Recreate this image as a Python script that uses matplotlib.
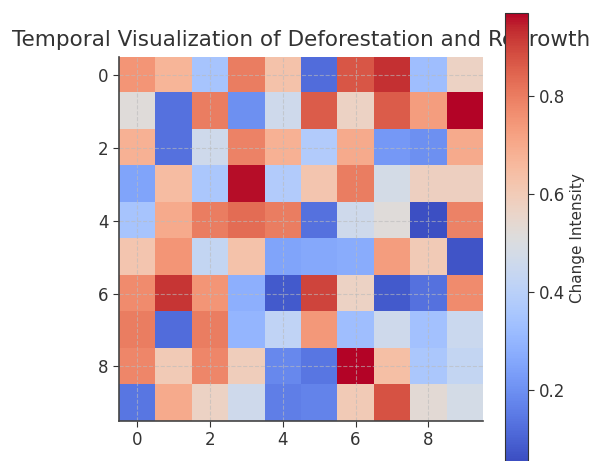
import matplotlib.pyplot as plt
import numpy as np

# Change intensity per cell (rows = y index 0..9, cols = x index 0..9)
row0 = [0.75, 0.67, 0.35, 0.80, 0.63, 0.12, 0.87, 0.93, 0.33, 0.57]
row1 = [0.52, 0.13, 0.80, 0.20, 0.46, 0.86, 0.57, 0.86, 0.73, 0.97]
row2 = [0.68, 0.13, 0.46, 0.79, 0.68, 0.38, 0.70, 0.22, 0.20, 0.70]
row3 = [0.25, 0.65, 0.36, 0.96, 0.38, 0.62, 0.80, 0.48, 0.58, 0.58]
row4 = [0.35, 0.70, 0.80, 0.83, 0.80, 0.13, 0.46, 0.52, 0.06, 0.79]
row5 = [0.62, 0.75, 0.43, 0.63, 0.25, 0.26, 0.27, 0.73, 0.60, 0.07]
row6 = [0.77, 0.92, 0.75, 0.28, 0.08, 0.90, 0.57, 0.08, 0.13, 0.77]
row7 = [0.80, 0.12, 0.80, 0.30, 0.42, 0.74, 0.33, 0.46, 0.34, 0.45]
row8 = [0.78, 0.60, 0.78, 0.59, 0.18, 0.14, 0.97, 0.64, 0.36, 0.43]
row9 = [0.14, 0.70, 0.57, 0.46, 0.16, 0.17, 0.60, 0.88, 0.53, 0.48]

data = np.array([row0, row1, row2, row3, row4, row5, row6, row7, row8, row9])

text_color = "#333333"
plt.rcParams["font.family"] = "DejaVu Sans"

fig = plt.figure(figsize=(5.95, 4.61), dpi=100)
W, H = 595, 461

# main heatmap axes (pixel box: x 119..483, y 57..421)
ax = fig.add_axes([119 / W, (H - 421) / H, 364 / W, 364 / H])
im = ax.imshow(data, cmap="coolwarm", vmin=0.05, vmax=0.97, aspect="auto")

ax.set_xticks([0, 2, 4, 6, 8])
ax.set_yticks([0, 2, 4, 6, 8])
ax.tick_params(labelsize=12, colors=text_color, length=4)
ax.grid(True, linestyle="--", color="#bbbbbb", alpha=0.6, linewidth=0.8)
for side in ["top", "right"]:
    ax.spines[side].set_visible(False)
for side in ["left", "bottom"]:
    ax.spines[side].set_color("#444444")
    ax.spines[side].set_linewidth(1.2)

ax.set_title("Temporal Visualization of Deforestation and Regrowth",
             fontsize=15.5, color=text_color, pad=8)

# colorbar (pixel box: x 505..528, y 13..463), drawn over the title
cax = fig.add_axes([505 / W, (H - 463) / H, 23 / W, 450 / H])
cax.set_zorder(5)
cb = fig.colorbar(im, cax=cax)
cb.set_ticks([0.2, 0.4, 0.6, 0.8])
cb.ax.tick_params(labelsize=12, colors=text_color, length=4)
cb.set_label("Change Intensity", fontsize=11, color=text_color)
cb.outline.set_edgecolor("#333333")

fig.savefig("out.png", dpi=100)
